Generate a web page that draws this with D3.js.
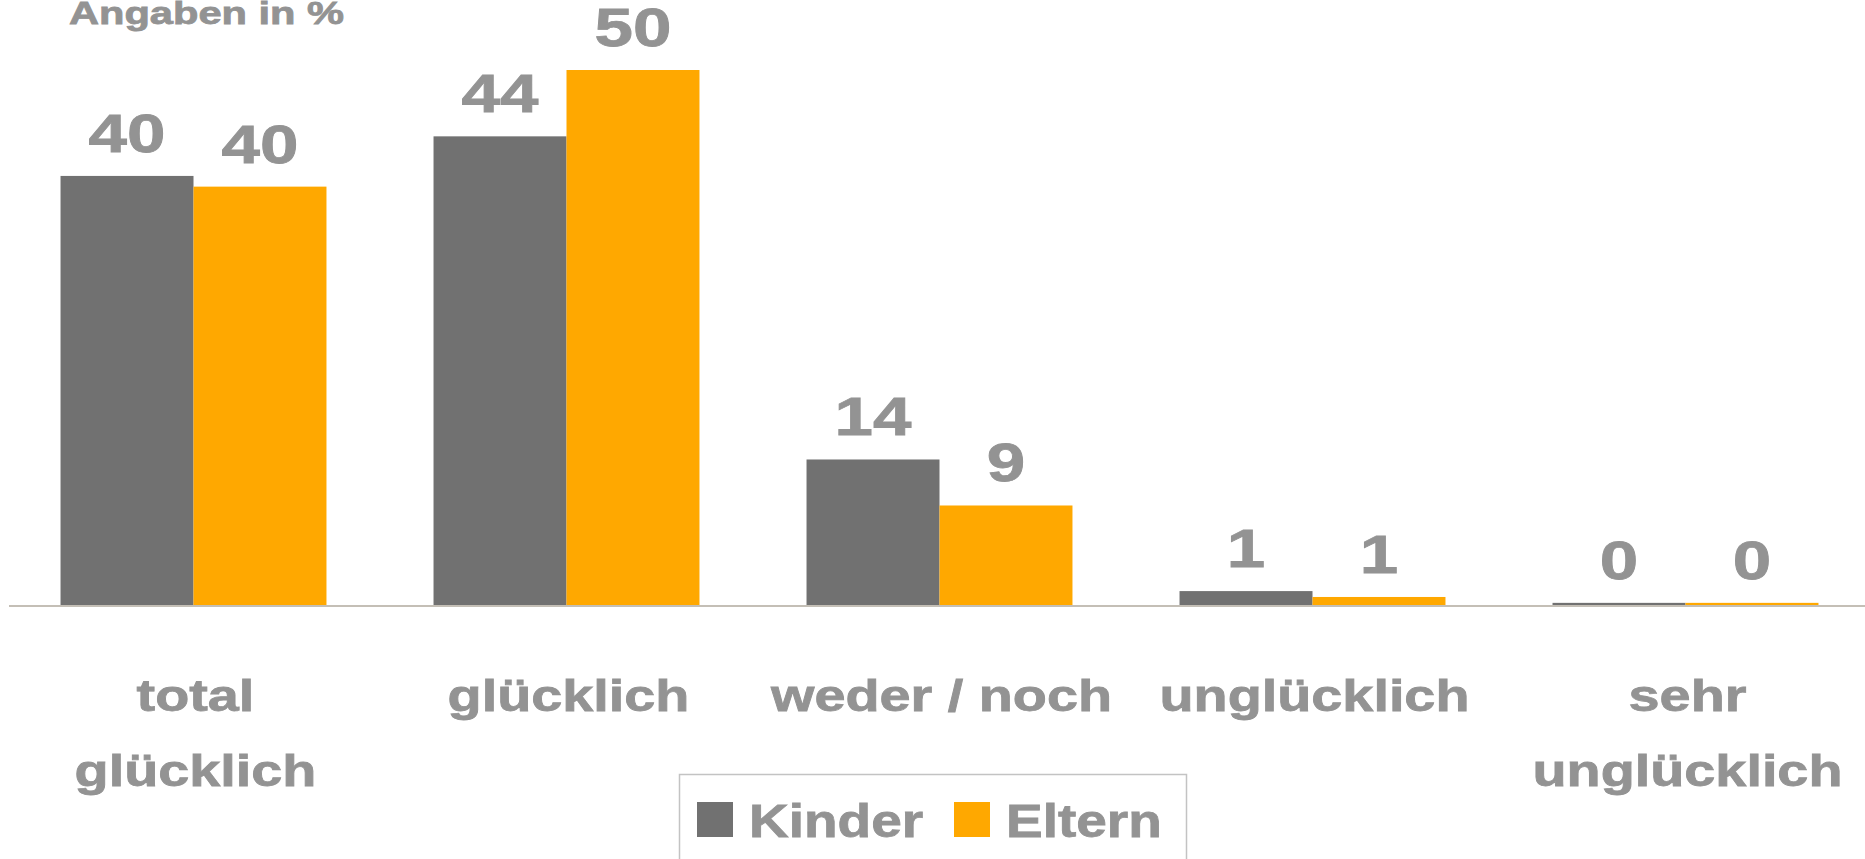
<!DOCTYPE html>
<html>
<head>
<meta charset="utf-8">
<script src="https://cdn.jsdelivr.net/npm/d3@7"></script>
<style>
  body { margin: 0; background: #fff; overflow: hidden; }
  text { font-family: "Liberation Sans", Arial, sans-serif; font-weight: bold; fill: #939393; stroke: #939393; stroke-width: 0.8px; }
</style>
</head>
<body>
<script>
// categories (line breaks as in the original)
const categories = [["total", "glücklich"], ["glücklich"], ["weder / noch"], ["unglücklich"], ["sehr", "unglücklich"]];
const series = ["Kinder", "Eltern"];
// bar heights
const kinder = [40.1, 43.8, 13.6, 1.3, 0.2];
const eltern = [39.1, 50.0, 9.3, 0.75, 0.2];
// value labels as printed
const kinderLabels = [40, 44, 14, 1, 0];
const elternLabels = [40, 50, 9, 1, 0];
const colors = ["#717171", "#FFA800"];

const width = 1865, height = 859;
const svg = d3.select("body").append("svg")
    .attr("width", width)
    .attr("height", height);

const keys = categories.map(d => d.join(" "));

var x0 = d3.scaleBand()
    .domain(keys)
    .range([7, 1872])
    .paddingInner(0.287)
    .paddingOuter(0.1435);

var x1 = d3.scaleBand()
    .domain(series)
    .range([0, x0.bandwidth()]);

var y = d3.scaleLinear()
    .domain([0, 50])
    .range([605, 70]);

// the original text is set wide, so stretch it horizontally
function wide(sel, sx) {
    return sel.attr("transform", function () {
        var t = d3.select(this);
        var tx = +t.attr("data-x"), ty = +t.attr("data-y");
        return "translate(" + tx + "," + ty + ") scale(" + sx + ",1)";
    });
}

var rows = keys.map(function (k, i) {
    return {
        key: k,
        lines: categories[i],
        vals: [
            { s: "Kinder", v: kinder[i], lbl: kinderLabels[i] },
            { s: "Eltern", v: eltern[i], lbl: elternLabels[i] }
        ]
    };
});

// title
svg.append("text")
    .attr("data-x", 69)
    .attr("data-y", 24)
    .style("font-size", "32px")
    .text("Angaben in %")
    .call(wide, 1.3);

var group = svg.selectAll("g.grp")
    .data(rows)
    .enter().append("g")
    .attr("class", "grp")
    .attr("transform", d => "translate(" + x0(d.key) + ",0)");

group.selectAll("rect")
    .data(d => d.vals)
    .enter().append("rect")
    .attr("x", d => x1(d.s))
    .attr("y", d => y(d.v))
    .attr("width", x1.bandwidth())
    .attr("height", d => y(0) - y(d.v))
    .style("fill", (d, i) => colors[i]);

group.selectAll("text.val")
    .data(d => d.vals)
    .enter().append("text")
    .attr("class", "val")
    .attr("data-x", d => x1(d.s) + x1.bandwidth() / 2)
    .attr("data-y", d => y(d.v) - 24)
    .attr("text-anchor", "middle")
    .style("font-size", "54px")
    .text(d => d.lbl)
    .call(wide, 1.28);

// baseline
svg.append("line")
    .attr("x1", 9)
    .attr("x2", width)
    .attr("y1", y(0) + 1)
    .attr("y2", y(0) + 1)
    .style("stroke", "#c4bfb6")
    .style("stroke-width", 2);

// category labels
group.selectAll("text.cat")
    .data(d => d.lines)
    .enter().append("text")
    .attr("class", "cat")
    .attr("data-x", x0.bandwidth() / 2 + 2)
    .attr("data-y", (d, i) => 711 + i * 75)
    .attr("text-anchor", "middle")
    .style("font-size", "45px")
    .text(d => d)
    .call(wide, 1.24);

// legend
var legend = svg.append("g");
legend.append("rect")
    .attr("x", 679.5)
    .attr("y", 774.5)
    .attr("width", 507)
    .attr("height", 120)
    .style("fill", "none")
    .style("stroke", "#c3c3c3")
    .style("stroke-width", 1.5);

var legendX = d3.scalePoint().domain(series).range([697, 954]);

var item = legend.selectAll("g.item")
    .data(series)
    .enter().append("g")
    .attr("class", "item")
    .attr("transform", d => "translate(" + legendX(d) + ",802)");

item.append("rect")
    .attr("width", 36)
    .attr("height", 35)
    .style("fill", (d, i) => colors[i]);

item.append("text")
    .attr("data-x", 52)
    .attr("data-y", 35)
    .style("font-size", "47px")
    .text(d => d)
    .call(wide, 1.17);
</script>
</body>
</html>
